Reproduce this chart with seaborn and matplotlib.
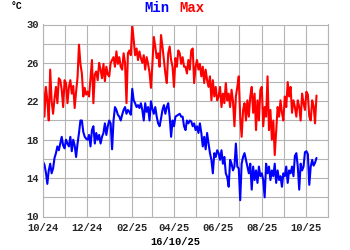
import matplotlib
matplotlib.use("Agg")
import matplotlib.pyplot as plt
import matplotlib.dates as mdates
import seaborn as sns
import pandas as pd

# Daily extremes sampled every 2 days, 2024-10-01 .. 2025-10-16
start_date = "2024-10-01"
t_max = [
    # Oct 24
    23.7, 20.4, 23.5, 22.1, 20.0, 25.3, 22.0, 20.7, 22.3, 23.5, 21.8, 24.4, 24.2, 23.2, 21.4, 24.2,
    # Nov
    23.9, 21.8, 23.5, 24.2, 22.8, 23.6, 21.3, 23.0, 24.5, 27.9, 25.9, 24.9, 22.5, 23.4, 22.7,
    # Dec
    23.0, 22.5, 24.4, 26.3, 21.8, 24.8, 25.1, 24.2, 26.0, 25.3, 24.4, 25.9, 24.1, 25.6, 24.8,
    # Jan 25
    24.6, 26.0, 26.3, 26.6, 25.6, 27.2, 25.9, 26.6, 25.6, 25.3, 27.0, 26.0, 21.8, 27.0, 27.3, 26.8,
    # Feb
    30.0, 28.4, 26.8, 27.5, 26.3, 27.2, 26.5, 26.0, 26.8, 25.3, 26.6, 25.9, 25.0, 23.4,
    # Mar
    25.9, 28.7, 27.7, 26.5, 27.0, 25.6, 28.9, 27.7, 26.3, 24.9, 23.9, 27.0, 27.7, 26.3, 25.6,
    # Apr
    23.5, 26.5, 25.6, 27.3, 27.0, 25.9, 26.6, 25.6, 25.6, 24.9, 26.3, 25.3, 27.3, 27.5, 23.9,
    # May
    25.6, 26.3, 25.3, 25.9, 24.6, 25.6, 23.9, 25.3, 24.2, 23.5, 24.6, 22.1, 24.2, 22.5, 23.5, 22.1,
    # Jun
    22.5, 23.5, 21.4, 22.8, 21.8, 23.9, 22.1, 22.8, 21.4, 23.2, 22.0, 19.4, 22.5, 23.5, 24.6,
    # Jul
    20.4, 18.3, 21.1, 21.8, 20.0, 22.1, 20.4, 22.5, 23.5, 20.8, 22.8, 19.0, 22.1, 20.0, 23.2,
    # Aug
    23.5, 19.4, 21.4, 20.4, 24.6, 19.0, 21.1, 18.0, 20.0, 16.4, 19.0, 21.4, 20.4, 22.1, 20.8, 20.0,
    # Sep
    22.5, 21.4, 24.0, 22.5, 23.5, 20.8, 22.1, 21.4, 20.4, 22.1, 21.4, 20.0, 22.8, 21.8, 21.1,
    # Oct 25
    23.0, 22.7, 20.4, 20.0, 22.1, 21.5, 19.7, 22.6,
]
t_min = [
    # Oct 24
    15.7, 15.4, 14.6, 13.4, 14.8, 15.5, 14.5, 15.0, 16.1, 16.6, 17.3, 16.9, 17.6, 18.3, 17.4, 17.1,
    # Nov
    18.0, 17.6, 17.3, 18.3, 16.8, 18.0, 17.4, 16.2, 17.6, 18.7, 20.0, 20.0, 18.8, 18.3, 18.1,
    # Dec
    18.0, 18.5, 17.3, 19.0, 19.4, 17.6, 18.7, 18.0, 18.5, 17.6, 18.3, 18.7, 19.7, 18.5, 19.4,
    # Jan 25
    20.0, 19.7, 17.0, 20.0, 21.4, 21.1, 20.6, 20.4, 20.0, 20.6, 21.1, 21.4, 20.7, 21.1, 20.9, 20.6,
    # Feb
    23.3, 22.1, 21.8, 21.4, 21.6, 21.3, 21.8, 21.1, 20.0, 21.8, 20.9, 21.4, 20.0, 22.0,
    # Mar
    21.2, 20.7, 21.4, 20.4, 19.7, 19.4, 20.2, 21.1, 21.6, 20.7, 21.4, 21.8, 20.4, 18.3, 20.0,
    # Apr
    19.4, 20.4, 20.5, 20.6, 20.7, 20.4, 20.4, 19.4, 19.0, 20.0, 19.7, 20.0, 19.9, 19.4, 19.7,
    # May
    19.0, 19.4, 18.7, 19.7, 18.7, 17.3, 18.3, 17.0, 18.7, 17.6, 16.6, 15.9, 14.5, 16.6, 16.2, 16.9,
    # Jun
    16.6, 15.9, 16.9, 15.5, 16.2, 14.5, 14.1, 13.1, 15.9, 15.5, 14.8, 15.2, 17.6, 15.2, 15.0,
    # Jul
    11.7, 15.5, 16.2, 16.6, 15.9, 15.2, 14.5, 15.5, 12.8, 15.2, 13.8, 14.8, 13.5, 15.2, 14.2,
    # Aug
    14.5, 13.8, 12.0, 15.5, 14.5, 15.2, 13.8, 14.8, 14.2, 15.5, 13.5, 14.8, 13.8, 14.2, 13.1, 14.5,
    # Sep
    14.2, 15.2, 13.5, 14.8, 14.5, 15.2, 14.2, 16.3, 16.6, 15.2, 12.8, 15.5, 14.8, 15.2, 16.7,
    # Oct 25
    16.8, 16.5, 13.3, 15.2, 15.9, 15.3, 15.6, 16.1,
]
y_ticks = [10, 14, 18, 22, 26, 30]
title_parts = ["Min", "Max"]
unit_label = "°C"
date_label = "16/10/25"

dates = pd.date_range(start_date, periods=len(t_max), freq="2D")
df = pd.DataFrame({"date": dates, "tmax": t_max, "tmin": t_min})

sns.set_theme(style="white")
mono = ["Liberation Mono", "DejaVu Sans Mono"]

fig = plt.figure(figsize=(3.5, 2.5), dpi=100)
ax = fig.add_axes([43 / 350, 33.5 / 250, 285 / 350, 192 / 250])

sns.lineplot(data=df, x="date", y="tmin", color="#0000ff", lw=1.5, ax=ax, estimator=None)
sns.lineplot(data=df, x="date", y="tmax", color="#ff0000", lw=1.5, ax=ax, estimator=None)

ax.set_xlim(pd.Timestamp("2024-10-01"), pd.Timestamp("2025-11-01"))
ax.set_ylim(10, 30)
ax.set_yticks(y_ticks)
ax.set_yticks(range(10, 31, 2), minor=True)
ax.xaxis.set_major_locator(mdates.MonthLocator(bymonth=[2, 4, 6, 8, 10, 12]))
ax.xaxis.set_minor_locator(mdates.MonthLocator())
ax.xaxis.set_major_formatter(mdates.DateFormatter("%m/%y"))

grid_col = "#b4b4b4"
ax.grid(True, which="both", color=grid_col, lw=0.8)
ax.set_axisbelow(True)
for s in ax.spines.values():
    s.set_color(grid_col)
    s.set_linewidth(0.8)
ax.tick_params(which="both", length=0, labelsize=7.5)
ax.tick_params(axis="x", pad=4.5)
ax.tick_params(axis="y", pad=3)
for lab in ax.get_xticklabels() + ax.get_yticklabels():
    lab.set_family(mono)
    lab.set_fontweight("bold")
ax.set_xlabel("")
ax.set_ylabel("")

fig.text(157 / 350, 1 - 8 / 250, title_parts[0], color="#0000ff", ha="center", va="center",
         fontsize=10, fontweight="bold", family=mono)
fig.text(192 / 350, 1 - 8 / 250, title_parts[1], color="#ff0000", ha="center", va="center",
         fontsize=10, fontweight="bold", family=mono)
fig.text(16 / 350, 1 - 6 / 250, unit_label, color="black", ha="center", va="center",
         fontsize=7, fontweight="bold", family=mono)
fig.text(175 / 350, 1 - 242 / 250, date_label, color="black", ha="center", va="center",
         fontsize=7.5, fontweight="bold", family=mono)

fig.savefig("out.png", dpi=100, facecolor="white")
